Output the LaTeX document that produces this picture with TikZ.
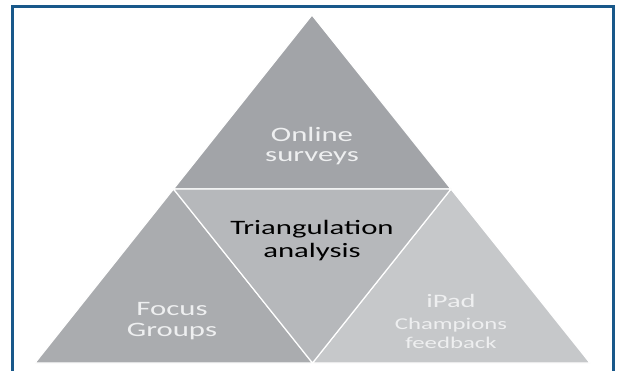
\documentclass[tikz,border=0pt]{standalone}
\usepackage{fontspec}
\setmainfont{Carlito}
\usepackage{tikz}
\usetikzlibrary{calc}

\definecolor{frameblue}{RGB}{24,88,138}
\definecolor{topgray}{RGB}{162,164,168}
\definecolor{leftgray}{RGB}{170,172,175}
\definecolor{midgray}{RGB}{182,184,187}
\definecolor{rightgray}{RGB}{198,200,202}
\definecolor{lighttext}{RGB}{238,239,240}

\begin{document}
\begin{tikzpicture}[x=1pt,y=-1pt,
  piece/.style={draw=white,line width=1.2pt,line join=miter},
  label/.style={align=center,inner sep=0pt,text=lighttext,xscale=1.5,transform shape}]
\useasboundingbox (0,0) rectangle (617,371);
\fill[white] (0,0) rectangle (617,371);

% outer frame, open at the bottom
\draw[frameblue,line width=3pt] (12.5,375) -- (12.5,6.5) -- (613,6.5) -- (613,375);

% corners of the big triangle
\coordinate (apex) at (312,15);
\coordinate (bl) at (35,363);
\coordinate (br) at (590,363);
\coordinate (ml) at ($(apex)!0.5!(bl)$);
\coordinate (mr) at ($(apex)!0.5!(br)$);
\coordinate (mb) at ($(bl)!0.5!(br)$);

\path[piece,fill=topgray] (apex) -- (ml) -- (mr) -- cycle;
\path[piece,fill=leftgray] (ml) -- (bl) -- (mb) -- cycle;
\path[piece,fill=rightgray] (mr) -- (mb) -- (br) -- cycle;
\path[piece,fill=midgray] (ml) -- (mr) -- (mb) -- cycle;

\node[label,font=\fontsize{20.5}{20}\selectfont] (online) at (312,146) {Online\\surveys};
\node[label,font=\fontsize{20.5}{23}\selectfont,text=black] (tri) at (312,241) {Triangulation\\analysis};
\node[label,font=\fontsize{20.5}{21}\selectfont] (focus) at (172,321) {Focus\\Groups};
\node[label,font=\fontsize{19}{20}\selectfont] (ipad) at (451,301) {iPad};
\node[label,font=\fontsize{16.5}{19}\selectfont] (champ) at (451,333) {Champions\\feedback};
\end{tikzpicture}
\end{document}
